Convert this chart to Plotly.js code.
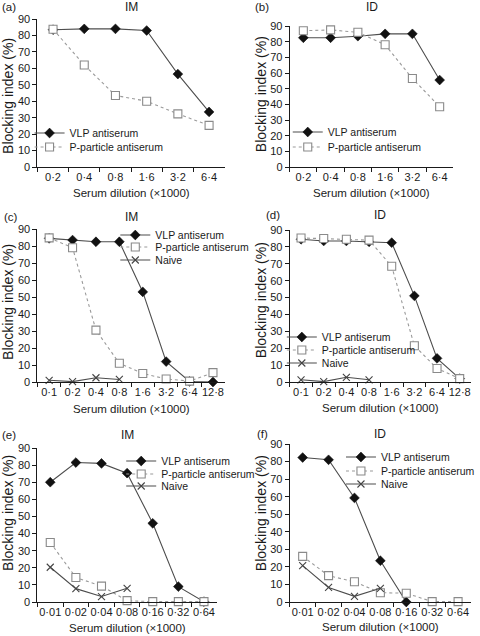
<!DOCTYPE html>
<html>
<head>
<meta charset="utf-8">
<script src="https://cdn.plot.ly/plotly-3.0.1.min.js"></script>
<style>
html,body{margin:0;padding:0;background:#fff;}
#chart{width:480px;height:636px;}
</style>
</head>
<body>
<div id="chart"></div>
<script>
// ---------- data ----------
var catsA = ['0·2','0·4','0·8','1·6','3·2','6·4'];
var vlpA  = [83.5, 84, 84, 83, 56.5, 33.5];
var ppA   = [83.8, 62, 43.5, 40, 32.3, 25.3];

var catsB = ['0·2','0·4','0·8','1·6','3·2','6·4'];
var vlpB  = [82.5, 82.5, 83.5, 85, 85, 55.5];
var ppB   = [87, 87.5, 86, 78, 56.5, 38.5];

var catsC  = ['0·1','0·2','0·4','0·8','1·6','3·2','6·4','12·8'];
var vlpC   = [84.5, 83.5, 82.5, 82.5, 53, 12, 0.3, 0];
var ppC    = [84.8, 79, 30.5, 11, 5, 1.8, 0.5, 5.5];
var naiveC = [1, 0.2, 2.5, 1.5];

var catsD  = ['0·1','0·2','0·4','0·8','1·6','3·2','6·4','12·8'];
var vlpD   = [84.5, 83.5, 83.5, 83, 82.5, 51, 14, 2];
var ppD    = [85.3, 85, 84.5, 84, 68.5, 21.5, 8, 2];
var naiveD = [1.3, 0.2, 2.8, 1.3];

var catsE  = ['0·01','0·02','0·04','0·08','0·16','0·32','0·64'];
var vlpE   = [70, 81.5, 81, 75.3, 46, 9, 0.2];
var ppE    = [34.8, 14.3, 9.3, 0.8, 0.2, 0.2, 0.2];
var naiveE = [20.3, 7.8, 3.2, 8];

var catsF  = ['0·01','0·02','0·04','0·08','0·16','0·32','0·64'];
var vlpF   = [82.3, 81, 59.3, 23.5, 0];
var ppF    = [26, 15, 11.5, 5.3, 5, 0.2, 0.2];
var naiveF = [20.7, 8.3, 3.2, 7.8];

var panelLetters = ['(a)','(b)','(c)','(d)','(e)','(f)'];
var panelRoutes  = ['IM','ID','IM','ID','IM','ID'];
var seriesNames  = ['VLP antiserum','P-particle antiserum','Naive'];
var xTitle = 'Serum dilution (\u00d71000)';
var yTitle = 'Blocking index (%)';

// ---------- styling ----------
var W = 480, H = 636;
var FONT = '"Liberation Sans", Arial, Helvetica, sans-serif';
var INK = '#1a1a1a';

var styles = [
  {line:{color:'#4d4d4d', width:1.1, dash:'solid'}, marker:{symbol:'diamond', size:7.5, color:'#111', line:{color:'#111', width:0.6}}},
  {line:{color:'#9a9a9a', width:1.1, dash:'dot'},   marker:{symbol:'square', size:8, color:'#fff', line:{color:'#8a8a8a', width:1.1}}},
  {line:{color:'#4d4d4d', width:1.1, dash:'solid'}, marker:{symbol:'x-thin', size:7, color:'#444', line:{color:'#444', width:1.1}}}
];

// panel geometry in pixels: x left/right of axes, y of value 0 and value 90
var geom = [
  {x0:38,  x1:228, yb:167, yt:19},
  {x0:294, x1:460, yb:167, yt:26},
  {x0:38,  x1:228, yb:382, yt:229},
  {x0:294, x1:478, yb:382, yt:230},
  {x0:38,  x1:220, yb:602, yt:448},
  {x0:294, x1:478, yb:602, yt:444}
];
// legend rows: left x of legend, y centres of rows
var legendPos = [
  {x:30,  ys:[133,147]},
  {x:292, ys:[132,147]},
  {x:117, ys:[235,247,260]},
  {x:286, ys:[337,350,363]},
  {x:123, ys:[461,474,486]},
  {x:346, ys:[457,471,484]}
];
var titleY  = [7, 7, 217, 215, 435, 434];
var letterX = [0, 257, 2, 268, 0, 259];
var xTitleY = [193, 193, 409, 408, 628, 627];
var yTitleX = [8, 265, 8, 265, 8, 265];
var yTitleY = [96, 94, 302, 300, 513, 513];

var panels = [
  {cats:catsA, series:[vlpA, ppA]},
  {cats:catsB, series:[vlpB, ppB]},
  {cats:catsC, series:[vlpC, ppC, naiveC]},
  {cats:catsD, series:[vlpD, ppD, naiveD]},
  {cats:catsE, series:[vlpE, ppE, naiveE]},
  {cats:catsF, series:[vlpF, ppF, naiveF]}
];

var data = [];
var layout = {
  width: W, height: H,
  margin: {l:0, r:0, t:0, b:0},
  paper_bgcolor: '#fff', plot_bgcolor: '#fff',
  font: {family: FONT, size: 11, color: INK},
  showlegend: true,
  annotations: []
};

function ann(x, y, text, size, opts) {
  var a = {
    xref: 'paper', yref: 'paper', x: x / W, y: 1 - y / H,
    xanchor: 'center', yanchor: 'middle', showarrow: false,
    text: text, font: {family: FONT, size: size, color: INK}
  };
  for (var k in (opts || {})) a[k] = opts[k];
  layout.annotations.push(a);
}

var legendCount = 0;
panels.forEach(function(p, i) {
  var k = i + 1;
  var xa = 'xaxis' + (k === 1 ? '' : k), ya = 'yaxis' + (k === 1 ? '' : k);
  var xr = 'x' + (k === 1 ? '' : k), yr = 'y' + (k === 1 ? '' : k);
  var g = geom[i];
  layout[xa] = {
    domain: [g.x0 / W, g.x1 / W],
    anchor: yr,
    type: 'category',
    categoryorder: 'array', categoryarray: p.cats,
    range: [-0.5, p.cats.length - 0.5],
    tickson: 'boundaries', tickangle: 0,
    ticks: 'outside', ticklen: 4, tickwidth: 1, tickcolor: INK,
    showline: true, linecolor: INK, linewidth: 1,
    showgrid: false, zeroline: false,
    tickfont: {family: FONT, size: 11, color: INK},
    fixedrange: true
  };
  layout[ya] = {
    domain: [1 - g.yb / H, 1 - g.yt / H],
    anchor: xr,
    range: [0, 90], dtick: 10, tick0: 0,
    ticks: 'outside', ticklen: 4, tickwidth: 1, tickcolor: INK,
    showline: true, linecolor: INK, linewidth: 1,
    showgrid: false, zeroline: false,
    tickfont: {family: FONT, size: 11, color: INK},
    fixedrange: true
  };
  p.series.forEach(function(vals, s) {
    legendCount++;
    var lg = 'legend' + (legendCount === 1 ? '' : legendCount);
    data.push({
      type: 'scatter', mode: 'lines+markers',
      x: p.cats.slice(0, vals.length), y: vals,
      xaxis: xr, yaxis: yr,
      name: seriesNames[s],
      legend: lg,
      line: styles[s].line, marker: styles[s].marker,
      cliponaxis: false,
      hoverinfo: 'x+y+name'
    });
    var lp = legendPos[i];
    layout[lg] = {
      x: lp.x / W, y: 1 - lp.ys[s] / H,
      xanchor: 'left', yanchor: 'middle',
      bgcolor: 'rgba(0,0,0,0)', borderwidth: 0,
      font: {family: FONT, size: 10.5, color: INK},
      itemwidth: 30
    };
  });
  // panel letter, route title, axis titles
  ann(letterX[i], titleY[i], panelLetters[i], 11.5, {xanchor: 'left'});
  ann((g.x0 + g.x1) / 2, titleY[i], panelRoutes[i], 12);
  ann((g.x0 + g.x1) / 2, xTitleY[i], xTitle, 11.5);
  ann(yTitleX[i], yTitleY[i], yTitle, 14, {textangle: -90});
});

Plotly.newPlot('chart', data, layout, {staticPlot: true, displayModeBar: false});
</script>
</body>
</html>
